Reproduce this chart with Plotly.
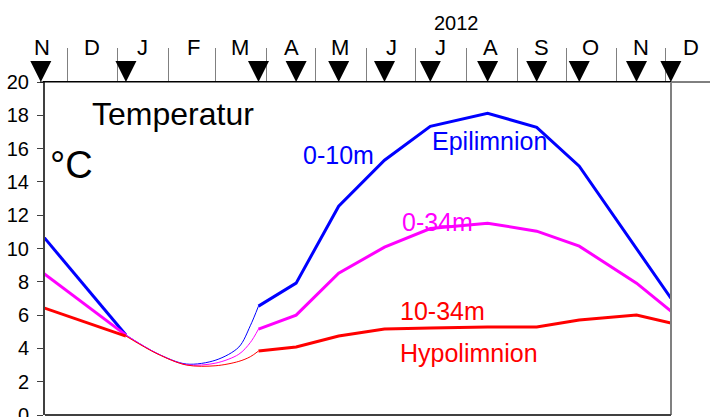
import pandas as pd
import plotly.graph_objects as go

# Sampling dates (one triangle per sampling campaign) and layer mean temperatures
sample_dates = ["2011-11-15", "2012-01-06", "2012-03-27", "2012-04-19", "2012-05-15",
                "2012-06-12", "2012-07-10", "2012-08-14", "2012-09-13", "2012-10-09",
                "2012-11-13", "2012-12-04"]
epi_0_10 = [10.9, 4.8, 6.54, 7.92, 12.54, 15.3, 17.34, 18.12, 17.28, 14.94, None, 7.02]
mix_0_34 = [8.64, 4.8, 5.16, 6.0, 8.52, 10.08, 11.2, 11.52, 11.04, 10.14, 7.92, 6.24]
hypo_10_34 = [6.5, 4.74, 3.84, 4.08, 4.74, 5.16, 5.22, 5.28, 5.28, 5.7, 6.0, 5.52]

# Estimated course under the ice cover between the January and March campaigns
ice_dates = ["2012-01-25", "2012-02-12", "2012-03-01", "2012-03-15", "2012-03-22"]
ice_epi = [3.7, 3.06, 3.3, 4.08, 5.36]
ice_mix = [3.7, 3.02, 3.12, 3.65, 4.35]
ice_hypo = [3.68, 3.0, 2.96, 3.22, 3.5]

month_letters = ["N", "D", "J", "F", "M", "A", "M", "J", "J", "A", "S", "O", "N", "D"]
y_ticks = list(range(0, 21, 2))

BLUE, MAGENTA, RED = "#0000ff", "#ff00ff", "#ff0000"
FONT = "Liberation Sans, Arial, sans-serif"

W, H = 710, 417
T, B = 82, 2
BOX_LEFT, BOX_RIGHT = 45, 671          # plot box in pixels
PH = H - T - B


def px_x(px):
    return px / W


def px_y(py):
    return (H - B - py) / PH


# x range chosen so that 1 Dec 2011 and 1 Dec 2012 sit on the month grid
x_start = pd.Timestamp("2011-11-17 13:26")
x_end = pd.Timestamp("2012-12-04 01:26")
per_px = (x_end - x_start) / (BOX_RIGHT - BOX_LEFT)
# companion axis spanning the whole width, same scale, for the top-strip marks
x2_start = x_start - BOX_LEFT * per_px
x2_end = x_end + (W - BOX_RIGHT) * per_px

fig = go.Figure()

series = [(epi_0_10, ice_epi, BLUE), (mix_0_34, ice_mix, MAGENTA), (hypo_10_34, ice_hypo, RED)]
for values, ice_values, color in series:
    # thin estimated winter segment
    fig.add_trace(go.Scatter(
        x=[sample_dates[1]] + ice_dates + [sample_dates[2]],
        y=[values[1]] + ice_values + [values[2]],
        mode="lines", line=dict(color=color, width=1, shape="spline", smoothing=0.9),
        hoverinfo="skip"))
    # measured autumn 2011 segment
    fig.add_trace(go.Scatter(
        x=sample_dates[:2], y=values[:2], mode="lines",
        line=dict(color=color, width=3), hoverinfo="skip"))
    # measured 2012 open-water segment
    fig.add_trace(go.Scatter(
        x=sample_dates[2:], y=values[2:], mode="lines", connectgaps=True,
        line=dict(color=color, width=3), hoverinfo="skip"))

# sampling campaign markers along the top axis
fig.add_trace(go.Scatter(
    x=sample_dates, y=[20] * len(sample_dates), mode="markers", cliponaxis=False,
    xaxis="x2", yaxis="y",
    marker=dict(symbol="arrow-down", size=21, color="black", line=dict(width=0)),
    hoverinfo="skip"))

# month letters centred in each month
month_mid = pd.date_range("2011-11-01", periods=len(month_letters), freq="MS") + pd.Timedelta(days=15)
annotations = []
for d, letter in zip(month_mid, month_letters):
    annotations.append(dict(x=d.strftime("%Y-%m-%d"), xref="x2", y=px_y(47), yref="paper",
                            text=letter, showarrow=False, xanchor="center", yanchor="middle",
                            font=dict(size=22, color="black", family=FONT)))


def label(text, left, cy, size, color):
    annotations.append(dict(x=px_x(left), y=px_y(cy), xref="paper", yref="paper",
                            text=text, showarrow=False, xanchor="left", yanchor="middle",
                            font=dict(size=size, color=color, family=FONT)))


label("Temperatur", 90, 114.5, 32, "black")
label("°C", 48, 164.5, 38, "black")
label("0-10m", 301, 154.5, 25, BLUE)
label("Epilimnion", 430, 141, 25, BLUE)
label("0-34m", 400, 221.5, 25, MAGENTA)
label("10-34m", 398, 311, 25, RED)
label("Hypolimnion", 398, 352.5, 25, RED)
annotations.append(dict(x=px_x(456), y=px_y(23), xref="paper", yref="paper", text="2012",
                        showarrow=False, xanchor="center", yanchor="middle",
                        font=dict(size=20, color="black",
                                  family="Liberation Sans Narrow, Arial Narrow, " + FONT)))

shapes = [
    # top axis line running past the plot box
    dict(type="line", xref="paper", yref="paper", x0=px_x(40), x1=1, y0=1, y1=1,
         line=dict(color="black", width=1), layer="above"),
    # right frame line
    dict(type="line", xref="x domain", yref="y domain", x0=1, x1=1, y0=0, y1=1,
         line=dict(color="#808080", width=2), layer="above"),
    # bottom frame line
    dict(type="line", xref="x domain", yref="y domain", x0=0, x1=1, y0=0, y1=0,
         line=dict(color="#404040", width=2), layer="above"),
]

fig.update_layout(
    template="none",
    width=W, height=H,
    margin=dict(l=0, r=0, t=T, b=B, pad=0),
    paper_bgcolor="white", plot_bgcolor="rgba(0,0,0,0)",
    showlegend=False,
    font=dict(family=FONT, color="black"),
    xaxis=dict(type="date", range=[x_start, x_end], side="top",
               domain=[BOX_LEFT / W, BOX_RIGHT / W], anchor="y",
               showgrid=False, zeroline=False, automargin=False,
               ticks="outside", ticklen=33, tickwidth=1, tickcolor="#808080",
               tick0="2011-12-01", dtick="M1", showticklabels=False,
               showline=True, linecolor="black", linewidth=1),
    xaxis2=dict(type="date", range=[x2_start, x2_end], domain=[0, 1], anchor="y",
                visible=False, fixedrange=True),
    yaxis=dict(range=[0, 20], tickvals=y_ticks, ticktext=[str(v) for v in y_ticks],
               anchor="x", showgrid=False, zeroline=False, automargin=False,
               ticks="outside", ticklen=6, tickwidth=1, tickcolor="#404040",
               showline=True, linecolor="#404040", linewidth=2,
               tickfont=dict(size=20, color="black", family=FONT),
               ticklabelstandoff=4, ticklabeloverflow="allow"),
    annotations=annotations,
    shapes=shapes,
)

fig.write_html("out.html")
